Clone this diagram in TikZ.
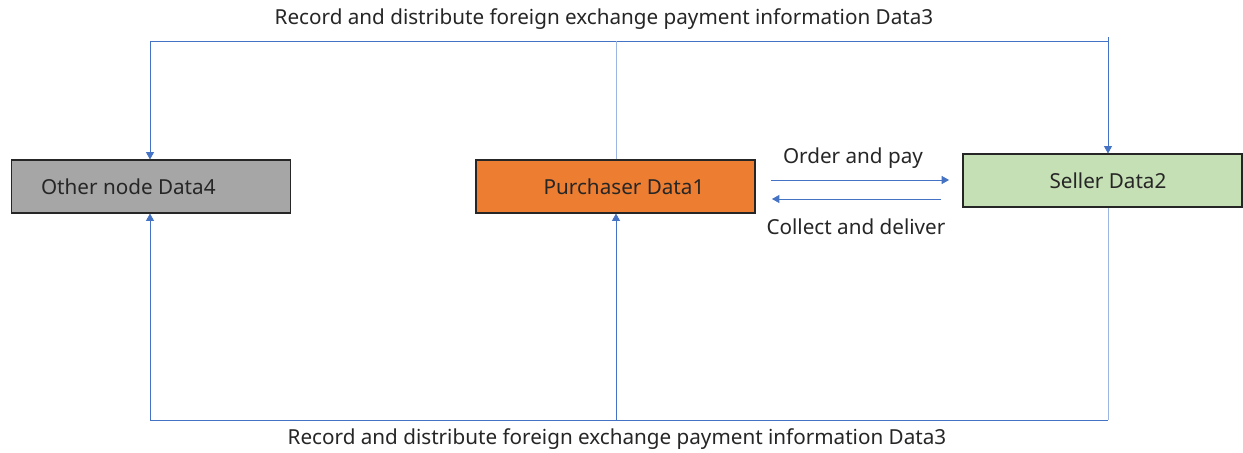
\documentclass[tikz,border=0pt]{standalone}
\usepackage{fontspec}
\setmainfont{Noto Sans}
\usetikzlibrary{arrows.meta}
\definecolor{linkblue}{HTML}{4472C4}
\definecolor{paleblue}{HTML}{9DB5E2}
\definecolor{txt}{HTML}{262626}
\definecolor{greybox}{HTML}{A6A6A6}
\definecolor{orangebox}{HTML}{ED7D31}
\definecolor{greenbox}{HTML}{C5E0B4}
\tikzset{
  box/.style={draw=black!85, line width=1.1pt, minimum width=209pt, minimum height=39.5pt,
    inner sep=0pt, font=\fontsize{15.5}{18}\selectfont, text=txt},
  lbl/.style={font=\fontsize{15.5}{18}\selectfont, text=txt, inner sep=0pt},
  buslbl/.style={font=\fontsize{15.5}{18}\selectfont, text=txt, inner sep=0pt},
  flow/.style={draw=linkblue, line width=0.6pt},
  riser/.style={draw=paleblue, line width=0.6pt},
  tip/.style={-{Triangle[width=6pt,length=5.5pt]}, linkblue}
}
\begin{document}
\begin{tikzpicture}[x=0.75pt,y=-0.75pt]
\useasboundingbox (0,0) rectangle (1243,453);
\fill[white] (0,0) rectangle (1243,453);

% participants
\node[box, fill=greybox]   (other) at (151,186.5)   {Other node Data4\kern34pt\relax};
\node[box, fill=orangebox] (buyer) at (615.5,186.5) {\hspace{12.75pt}Purchaser Data1};
\node[box, fill=greenbox]  (seller) at (1102.5,180.5) {\hspace{8.25pt}Seller Data2};

% frame corners of the record bus
\coordinate (tl) at (150,41);
\coordinate (tm) at (616,41);
\coordinate (tr) at (1108,41);
\coordinate (trtop) at (1108,37);
\coordinate (bl) at (150,420);
\coordinate (bm) at (616,420);
\coordinate (br) at (1108,420);

% top bus
\draw[flow] (tl) -- (tr);
\draw[riser] (buyer.north -| tm) -- (tm);
\draw[riser, tip] (tl) -- (other.north -| tl);
\draw[riser, tip] (trtop) -- (seller.north -| tr);

% bottom bus
\draw[riser] (seller.south -| br) -- (br);
\draw[flow] (br) -- (bl);
\draw[riser, tip] (bl) -- (other.south -| bl);
\draw[riser, tip] (bm) -- (buyer.south -| bm);

% trade between purchaser and seller
\coordinate (o1) at (771,180);
\coordinate (o2) at (949,180);
\coordinate (c1) at (941,199);
\coordinate (c2) at (772,199);
\draw[flow, tip] (o1) -- (o2);
\draw[flow, tip] (c1) -- (c2);

\node[lbl] (pay) at (853,158) {Order and pay};
\node[lbl] (deliver) at (856,227) {Collect and deliver};
\node[buslbl] (toptext) at (604,19) {Record and distribute foreign exchange payment information Data3};
\node[buslbl] (bottext) at (617,439) {Record and distribute foreign exchange payment information Data3};
\end{tikzpicture}
\end{document}
